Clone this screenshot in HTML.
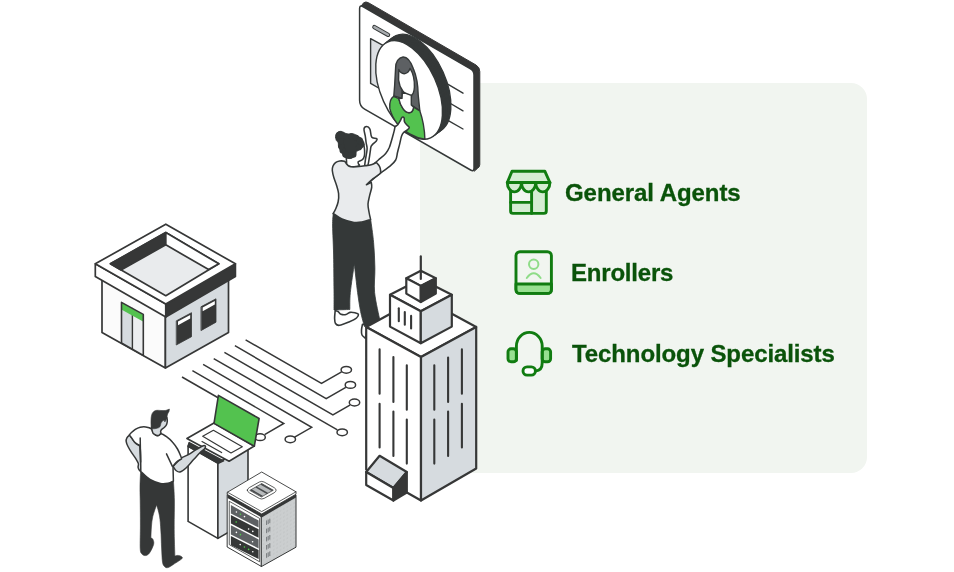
<!DOCTYPE html>
<html lang="en">
<head>
<meta charset="utf-8">
<title>Agents</title>
<style>
html,body{margin:0;padding:0;background:#fff;}
body{width:954px;height:572px;position:relative;overflow:hidden;font-family:"Liberation Sans",sans-serif;}
.panel{position:absolute;left:420px;top:83px;width:447px;height:390px;background:#f1f5f0;border-radius:0 16px 16px 0;}
.lbl{will-change:transform;position:absolute;margin:0;font-weight:700;font-size:24px;line-height:24px;color:#0a530a;-webkit-text-stroke:0.3px #0a530a;white-space:nowrap;letter-spacing:0;}
#art{position:absolute;left:0;top:0;width:954px;height:572px;}
</style>
</head>
<body>
<div class="panel"></div>
<p class="lbl" style="left:565.4px;top:181px;letter-spacing:-0.06px;">General Agents</p>
<p class="lbl" style="left:570.8px;top:261px;letter-spacing:-0.2px;">Enrollers</p>
<p class="lbl" style="left:571.6px;top:342px;letter-spacing:-0.1px;">Technology Specialists</p>
<svg id="art" viewBox="0 0 954 572" width="954" height="572">
<g id="circuits" fill="none" stroke="#363737" stroke-width="1.5" stroke-linejoin="miter" stroke-linecap="butt">
<path d="M245.6 339.8 L321.5 383.4 L341.6 371.8"/>
<path d="M234.9 345.7 L326.2 398.7 L345.8 387.3"/>
<path d="M224.4 352.3 L332.9 415.0 L349.9 405.1"/>
<path d="M213.7 358.6 L337.4 429.8"/>
<path d="M203.1 364.4 L311.7 427.3 L294.6 437.2"/>
<path d="M192.4 370.6 L283.8 423.5 L264.6 434.6"/>
<path d="M182.0 377.0 L222.0 400.0"/>
<ellipse cx="346.3" cy="369.8" rx="5.2" ry="3.4" fill="#fff"/>
<ellipse cx="350.4" cy="384.9" rx="5.2" ry="3.4" fill="#fff"/>
<ellipse cx="354.5" cy="402.5" rx="5.2" ry="3.4" fill="#fff"/>
<ellipse cx="342.2" cy="432.3" rx="5.2" ry="3.4" fill="#fff"/>
<ellipse cx="290.3" cy="439.3" rx="5.2" ry="3.4" fill="#fff"/>
<ellipse cx="260.1" cy="437.2" rx="5.2" ry="3.4" fill="#fff"/>
</g>
<g id="shop" stroke-linejoin="round" stroke-linecap="round" stroke="#363737" stroke-width="1.7">
<path d="M102.0 276.0 L165.4 310.0 L165.4 367.9 L102.0 332.4 Z" fill="#fbfbfb"/>
<path d="M165.4 310.0 L228.5 276.0 L228.5 332.6 L165.4 367.9 Z" fill="#d6dbdf"/>
<path d="M121.5 302.4 L143.3 314.4 L143.3 355.4 L121.5 343.0 Z" fill="#eceef0" stroke="none"/>
<path d="M121.5 302.4 L132.4 308.4 L132.4 349.2 L121.5 343.0 Z" fill="#d6dbdf" stroke="none"/>
<path d="M132.4 308.4 V349.2" fill="none" stroke-width="1.4"/>
<path d="M121.8 302.6 L143.0 314.4 L143.0 321.6 L121.8 309.8 Z" fill="#53c24f" stroke="none"/>
<path d="M121.5 302.4 L143.3 314.4 L143.3 355.4 L121.5 343.0 Z" fill="none" stroke-width="1.6"/>
<path d="M176.6 320.7 L191.5 312.7 L191.5 336.7 L176.6 344.8 Z" fill="#363737" stroke-width="0.8"/>
<path d="M201.3 306.6 L216.0 298.8 L216.0 322.2 L201.3 330.4 Z" fill="#363737" stroke-width="0.8"/>
<path d="M178.0 321.6 L190.2 315.0 L190.2 318.6 L178.0 325.2 Z" fill="#fff" stroke="none"/>
<path d="M202.7 307.6 L214.8 301.0 L214.8 304.6 L202.7 311.2 Z" fill="#fff" stroke="none"/>
<path d="M95.3 263.8 L165.8 304.1 L165.8 316.9 L95.3 276.6 Z" fill="#fff"/>
<path d="M165.8 304.1 L235.4 263.8 L235.4 276.6 L165.8 316.9 Z" fill="#363737"/>
<path d="M165.8 224.2 L235.4 263.8 L165.8 304.1 L95.3 263.8 Z" fill="#fff"/>
<path d="M165.8 232.6 L218.8 263.8 L165.8 295.7 L110.4 263.8 Z" fill="#e9ebed"/>
<path d="M110.4 263.8 L165.8 232.6 L165.8 244.8 L121.0 270.0 Z" fill="#363737"/>
<path d="M165.8 232.6 L218.8 263.8 L208.6 269.6 L165.8 244.8 Z" fill="#fff"/>
</g>
<g id="screen" stroke-linejoin="round" stroke-linecap="round">
  <path d="M359.8 8 L363.6 2.8 Q365.8 1.2 368.4 2.7 L476 65 Q479.8 67.2 479.8 71.5 L479.8 164.5 Q479.8 167 477.6 168.3 L474.5 171 Z" fill="#363737" stroke="#363737" stroke-width="1"/>
  <path d="M359.6 8.8 Q359.6 4.7 362.8 6.5 L470.5 68.9 Q474 71 474 75 L474 168 Q474 172 470.6 170 L364.6 109.1 Q359.6 106.2 359.6 100.2 Z" fill="#ffffff" stroke="#343838" stroke-width="1.5"/>
  <path d="M370.6 38.6 L383 45.4 L383 90.5 L370.6 83.4 Z" fill="#dcdfe3" stroke="#343838" stroke-width="1.4"/>
  <path d="M374.4 27.1 L388 34.8" stroke="#343838" stroke-width="4.4" fill="none"/>
  <path d="M374.4 27.1 L388 34.8" stroke="#a9adb0" stroke-width="2.4" fill="none"/>
  <g fill="none" stroke="#343838" stroke-width="1.4">
    <path d="M446 83.2 L463 93.2"/>
    <path d="M448 102 L463 110.8"/>
    <path d="M447 119.8 L463 129"/>
  </g>
  <g fill="#343838" stroke="#343838" stroke-width="1.4">
    <ellipse cx="417.5" cy="83.5" rx="52.5" ry="28" transform="rotate(65.8 417.5 83.5)"/>
    <ellipse cx="415.4" cy="85.1" rx="52.5" ry="28" transform="rotate(65.8 415.4 85.1)"/>
    <ellipse cx="413.3" cy="86.7" rx="52.5" ry="28" transform="rotate(65.8 413.3 86.7)"/>
    <ellipse cx="411.2" cy="88.3" rx="52.5" ry="28" transform="rotate(65.8 411.2 88.3)"/>
  </g>
  <ellipse cx="409.1" cy="89.9" rx="52.5" ry="28" transform="rotate(65.8 409.1 89.9)" fill="#ffffff" stroke="#343838" stroke-width="1.4"/>
  <!-- avatar -->
  <path d="M403 57 C398.5 57.5 395.6 62 395.6 68 L394.6 86 L393.8 96 L402.5 98.4 L402 90 L412 92 L411.2 99 L411.4 105 L419.8 110.6 L418.2 95 C418 84 416.5 76 413.5 69 C411 62 407.5 56.8 403 57 Z" fill="#5d6063" stroke="#343838" stroke-width="1.4"/>
  <path d="M398.8 69.5 C400 72 402.5 74 405 73.6 C407.5 73.2 409.2 71 410 68.4 C413 73 414.6 80 414.4 87 C414.2 92 412.6 95.6 409.8 95.6 C405.5 95.6 399.6 89 398.6 80 Z" fill="#ffffff" stroke="#343838" stroke-width="1.4"/>
  <path d="M393.6 96.4 C391 98 389.4 103 389.8 108.4 C391 114 394 119.5 397.5 124 C404 131.5 414 137.5 424.9 139.2 C424.6 130 423.2 120.5 419.8 110.8 L413.6 107.2 C413.2 110.5 411.6 112.8 409 112.8 C404.5 112.6 400.4 106 398.8 98.6 Z" fill="#53c24f" stroke="#343838" stroke-width="1.4"/>
  <path d="M402.4 92 L402 98.4 L398.8 98.6 C400.4 106 404.5 112.6 409 112.8 C411.6 112.8 413.2 110.5 413.6 107.2 L411.3 105 L411.3 95.4 Z" fill="#ffffff" stroke="#343838" stroke-width="1.4"/>
</g>
<g id="woman" stroke-linejoin="round" stroke-linecap="round" stroke="#343838" stroke-width="1.55">
<path d="M335.2 310.5 C335.1 311.8 334.6 315.8 334.6 318.0 C334.7 320.2 334.7 322.3 335.5 323.5 C336.3 324.7 337.2 325.6 339.5 325.3 C341.8 325.1 346.2 323.2 349.0 322.0 C351.8 320.8 354.9 319.3 356.5 318.0 C358.1 316.7 358.6 315.1 358.4 314.2 C358.1 313.3 356.4 313.1 355.0 312.8 C353.6 312.5 351.5 312.1 350.0 312.4 C348.5 312.7 347.5 314.2 346.0 314.5 C344.5 314.8 342.3 314.7 341.0 314.2 C339.7 313.7 339.0 312.1 338.0 311.5 C337.0 310.9 335.7 310.7 335.2 310.5 Z" fill="#fff" stroke-width="1.6"/>
<path d="M362.5 324.2 C362.3 325.2 361.6 328.2 361.5 330.0 C361.4 331.8 361.3 333.6 362.0 335.0 C362.7 336.4 364.9 337.8 365.5 338.4 C365.8 337.0 366.8 332.3 367.0 330.0 C367.2 327.7 367.0 325.4 367.0 324.5 C366.2 324.4 363.2 324.2 362.5 324.2 Z" fill="#fff" stroke-width="1.6"/>
<path d="M333.2 213.5 C333.1 215.6 332.5 219.1 332.6 226.0 C332.7 232.9 333.4 244.3 333.6 255.0 C333.8 265.7 333.9 280.8 334.0 290.0 C334.1 299.2 334.0 306.7 334.0 310.0 C336.6 309.9 347.2 309.6 349.8 309.5 C349.9 306.7 349.6 300.2 350.3 292.6 C351.1 285.0 353.6 268.8 354.3 264.0 C354.9 268.8 356.6 284.7 357.6 292.6 C358.7 300.5 359.5 305.9 360.6 311.5 C361.7 317.1 363.8 324.0 364.4 326.5 C367.0 325.6 377.4 321.9 380.0 321.0 C379.1 316.3 375.5 301.5 374.6 292.6 C373.8 283.7 375.1 276.1 374.9 267.8 C374.7 259.5 374.3 250.7 373.6 242.6 C372.9 234.5 371.1 222.9 370.6 219.0 C367.8 219.6 360.2 223.2 354.0 222.3 C347.8 221.4 336.7 215.0 333.2 213.5 Z" fill="#343838" stroke-width="0.8"/>
<path d="M372.0 165.5 C373.1 164.6 376.1 162.0 378.4 160.0 C380.7 158.0 383.9 155.6 385.7 153.5 C387.5 151.4 388.2 150.0 389.4 147.2 C390.5 144.4 391.8 139.5 392.6 136.7 C393.4 133.9 393.9 132.1 394.3 130.4 C394.7 128.7 394.6 127.7 395.2 126.7 C395.8 125.8 396.9 125.7 397.8 124.7 C398.7 123.7 399.7 121.7 400.4 120.5 C401.1 119.3 401.4 117.8 402.0 117.3 C402.6 116.8 403.7 117.1 404.1 117.8 C404.5 118.5 404.0 120.3 404.4 121.5 C404.8 122.7 405.9 123.7 406.7 124.7 C407.5 125.7 409.3 126.5 409.3 127.5 C409.3 128.4 407.6 129.6 406.7 130.4 C405.8 131.2 404.5 131.5 403.6 132.5 C402.7 133.5 402.2 134.1 401.5 136.2 C400.8 138.3 400.1 142.4 399.4 145.1 C398.7 147.8 398.1 150.0 397.5 152.5 C396.9 155.0 396.9 157.7 395.7 160.0 C394.4 162.3 392.6 164.0 390.0 166.2 C387.4 168.4 384.3 170.1 380.4 173.2 C376.5 176.3 368.7 182.8 366.4 184.7 C367.3 181.5 371.1 168.7 372.0 165.5 Z" fill="#fff"/>
<path d="M346.3 158.5 C346.4 159.1 346.5 161.0 346.6 162.0 C346.7 163.0 346.2 163.6 346.8 164.4 C347.4 165.2 348.5 166.2 350.0 166.6 C351.5 167.0 354.4 166.8 356.0 166.6 C357.6 166.4 359.0 165.7 359.4 165.3 C359.8 164.9 358.7 164.7 358.5 164.1 C358.3 163.5 358.0 162.5 358.1 162.0 C358.2 161.5 358.7 161.5 359.4 161.1 C360.1 160.7 361.7 160.3 362.5 159.5 C363.3 158.7 363.9 157.7 364.3 156.2 C364.7 154.7 364.7 152.4 364.6 150.4 C364.5 148.4 363.9 145.3 363.8 144.3 C362.3 145.2 357.9 147.6 355.0 150.0 C352.1 152.4 347.8 157.1 346.3 158.5 Z" fill="#fff"/>
<path d="M364.6 166.0 C364.7 165.0 365.1 162.1 365.4 159.9 C365.7 157.7 366.3 155.0 366.6 153.0 C366.9 151.0 367.2 149.8 367.1 148.0 C367.0 146.2 366.4 144.6 366.1 142.5 C365.8 140.4 365.6 138.0 365.2 135.7 C364.8 133.4 363.8 130.4 364.0 128.9 C364.2 127.4 365.7 126.5 366.7 126.5 C367.7 126.5 369.1 127.4 369.8 128.9 C370.6 130.4 370.7 134.2 371.2 135.7 C371.7 137.2 371.7 137.3 372.6 137.8 C373.5 138.3 376.2 138.2 376.8 138.7 C377.4 139.2 377.0 140.1 376.3 141.0 C375.6 141.9 373.7 143.2 372.8 144.1 C371.9 145.0 371.6 145.4 371.2 146.2 C370.8 147.0 370.8 147.4 370.6 148.8 C370.4 150.2 370.1 152.4 369.8 154.6 C369.5 156.8 368.9 160.1 368.6 162.0 C368.3 163.9 367.9 165.3 367.8 166.0 C367.3 166.0 365.1 166.0 364.6 166.0 Z" fill="#fff"/>
<path d="M333.2 213.5 C333.6 212.8 334.7 211.2 335.5 209.3 C336.3 207.4 337.6 204.6 338.1 202.0 C338.6 199.4 338.9 196.4 338.6 193.6 C338.3 190.8 337.3 187.8 336.5 185.2 C335.7 182.6 334.6 180.2 333.9 177.8 C333.2 175.4 332.5 172.4 332.3 170.5 C332.1 168.6 332.4 167.6 332.9 166.3 C333.4 165.0 334.4 163.5 335.5 162.6 C336.6 161.7 338.2 161.2 339.7 161.0 C341.2 160.8 343.3 160.9 344.4 161.3 C345.5 161.8 346.1 163.3 346.4 163.7 C346.8 164.1 348.0 165.8 349.1 166.3 C350.2 166.8 351.7 166.9 353.3 166.9 C354.9 166.9 357.1 166.8 359.0 166.6 C360.9 166.4 362.9 166.1 364.9 165.8 C366.9 165.5 369.3 165.2 371.2 164.7 C373.1 164.2 375.5 162.9 376.4 162.6 C376.9 163.2 378.8 165.0 379.5 166.3 C380.2 167.6 380.5 169.3 380.6 170.5 C380.8 171.7 380.4 172.9 380.4 173.4 C379.0 174.4 374.3 177.6 372.0 179.5 C369.7 181.4 367.3 183.8 366.4 184.7 C367.2 184.3 370.4 182.6 371.2 182.2 C371.3 183.0 372.0 185.1 371.7 187.3 C371.4 189.6 370.2 192.9 369.6 195.7 C369.0 198.5 368.1 201.3 368.0 204.1 C367.9 206.9 368.7 209.9 369.1 212.5 C369.5 215.1 370.4 218.3 370.6 219.5 C369.2 219.9 364.8 221.5 362.0 222.0 C359.2 222.5 357.3 222.9 354.0 222.4 C350.7 221.9 345.5 220.5 342.0 219.0 C338.5 217.5 334.7 214.4 333.2 213.5 Z" fill="#e9ebed"/>
<path d="M335.5 137.3 C335.5 136.2 335.6 134.6 336.3 133.6 C337.1 132.6 338.7 131.5 340.0 131.3 C341.3 131.1 343.0 131.9 344.2 132.4 C345.4 132.9 346.2 134.0 347.3 134.2 C348.4 134.4 349.8 133.6 351.0 133.6 C352.2 133.6 353.5 133.8 354.7 134.2 C355.9 134.6 357.2 135.6 358.3 136.3 C359.4 137.0 360.6 137.5 361.5 138.4 C362.4 139.3 363.2 140.4 363.6 141.5 C364.0 142.6 364.3 143.6 364.1 144.7 C363.9 145.8 363.3 146.9 362.5 147.8 C361.7 148.7 360.4 149.3 359.4 149.9 C358.4 150.5 357.3 150.8 356.7 151.5 C356.1 152.2 356.2 153.2 355.7 154.1 C355.2 155.0 354.6 156.4 353.6 157.2 C352.6 157.9 351.2 158.5 349.9 158.6 C348.6 158.7 346.9 158.4 345.7 157.8 C344.5 157.2 343.4 156.1 342.8 155.1 C342.2 154.1 342.6 152.9 342.1 152.0 C341.6 151.1 340.6 150.9 340.0 149.9 C339.4 148.9 338.7 147.4 338.4 146.2 C338.1 145.0 338.5 143.5 338.2 142.6 C337.9 141.7 336.8 141.4 336.3 140.5 C335.9 139.6 335.5 138.5 335.5 137.3 Z" fill="#343838" stroke-width="0.6"/>
<circle cx="340.0" cy="135.6" r="4.4" fill="#343838" stroke="none"/>
<circle cx="346.6" cy="136.4" r="3.2" fill="#343838" stroke="none"/>
<circle cx="351.6" cy="136.4" r="3.1" fill="#343838" stroke="none"/>
<circle cx="356.0" cy="137.8" r="3.1" fill="#343838" stroke="none"/>
<circle cx="359.8" cy="140.4" r="3.1" fill="#343838" stroke="none"/>
<circle cx="361.2" cy="144.2" r="3.1" fill="#343838" stroke="none"/>
<circle cx="359.0" cy="147.2" r="3.1" fill="#343838" stroke="none"/>
<circle cx="353.2" cy="154.4" r="3.3" fill="#343838" stroke="none"/>
<circle cx="349.6" cy="155.4" r="3.4" fill="#343838" stroke="none"/>
<circle cx="345.6" cy="154.6" r="3.3" fill="#343838" stroke="none"/>
<circle cx="342.6" cy="150.6" r="3.1" fill="#343838" stroke="none"/>
<circle cx="341.2" cy="146.2" r="3.1" fill="#343838" stroke="none"/>
<circle cx="340.6" cy="141.6" r="3.0" fill="#343838" stroke="none"/>
</g>
<g id="tower" stroke-linejoin="round" stroke-linecap="round" stroke="#363737" stroke-width="2.2">
<path d="M366.2 327.0 L421.0 297.0 L476.2 327.0 L421.0 357.0 Z" fill="#fff"/>
<path d="M366.2 327.0 L421.0 357.0 L421.0 500.5 L366.2 469.5 Z" fill="#fff"/>
<path d="M421.0 357.0 L476.2 327.0 L476.2 468.5 L421.0 500.5 Z" fill="#d6dbdf"/>
<g fill="none" stroke-width="2.1">
<path d="M379.6 349.4 V393.7 M379.6 403.8 V447.5"/>
<path d="M393.4 357.0 V402.0 M393.4 411.5 V455.9"/>
<path d="M406.8 365.2 V409.8 M406.8 419.6 V463.6"/>
<path d="M434.3 365.2 V409.8 M434.3 419.6 V463.6"/>
<path d="M448.1 357.5 V402.0 M448.1 411.5 V455.9"/>
<path d="M461.9 349.4 V393.7 M461.9 403.8 V447.5"/>
</g>
<path d="M379.6 455.8 L366.2 472.0 L393.4 488.0 L406.8 472.0 Z" fill="#d6dbdf"/>
<path d="M366.2 472.0 L366.2 485.0 L393.4 500.5 L393.4 488.0 Z" fill="#fff"/>
<path d="M393.4 488.0 L406.8 472.0 L406.8 492.5 L393.4 500.5 Z" fill="#363737"/>
<path d="M390.0 294.8 L420.8 279.0 L451.8 294.8 L420.8 311.3 Z" fill="#fff"/>
<path d="M390.0 294.8 L420.8 311.3 L420.8 343.2 L390.0 326.6 Z" fill="#fff"/>
<path d="M420.8 311.3 L451.8 294.8 L451.8 326.6 L420.8 343.2 Z" fill="#d6dbdf"/>
<g fill="none" stroke-width="2.1">
<path d="M398.8 308.3 V321.3"/>
<path d="M404.8 312.0 V324.7"/>
<path d="M411.1 315.9 V328.5"/>
</g>
<path d="M406.3 278.3 L420.8 270.8 L435.8 278.3 L420.8 285.9 Z" fill="#fff"/>
<path d="M406.3 278.3 L420.8 285.9 L420.8 302.0 L406.3 293.6 Z" fill="#fff"/>
<path d="M420.8 285.9 L435.8 278.3 L435.8 293.6 L420.8 302.0 Z" fill="#363737"/>
<path d="M420.8 256.4 V279" fill="none"/>
</g>
<g id="desk" stroke-linejoin="round" stroke-linecap="round" stroke="#353737" stroke-width="1.6">
<path d="M188.1 446.0 L217.9 463.0 L217.9 538.4 L188.1 521.4 Z" fill="#fff"/>
<path d="M217.9 463.0 L248.0 445.0 L248.0 521.0 L217.9 538.4 Z" fill="#d6dbdf"/>
<path d="M189.2 442.6 L223.5 460.9 L218.2 463.4 L188.1 446.3 Z" fill="#353737"/>
<path d="M186.9 438.5 L214.0 423.0 L254.3 446.0 L229.1 461.2 Z" fill="#fff"/>
<path d="M202.7 436.3 L213.4 430.3 L242.3 446.7 L231.0 453.0 Z" fill="#fff" stroke-width="1.2"/>
<path d="M202 441.6 L221.6 452.6" fill="none" stroke-width="1.2"/>
<path d="M218.4 395.4 L259.1 418.5 L254.3 446.3 L214.0 423.4 Z" fill="#53c24f"/>
</g>
<g id="man" stroke-linejoin="round" stroke-linecap="round" stroke="#353737" stroke-width="1.5">
<path d="M140.6 471.0 C140.5 473.5 140.1 481.1 140.0 486.0 C139.9 490.9 140.1 493.9 140.2 500.4 C140.3 506.9 140.4 517.1 140.4 525.0 C140.4 532.9 140.0 543.2 140.2 548.0 C140.4 552.8 140.7 552.2 141.5 553.5 C142.3 554.8 144.0 555.7 145.3 555.6 C146.6 555.5 148.1 554.9 149.5 553.0 C150.9 551.1 153.0 546.8 153.6 544.5 C154.2 542.2 153.4 540.6 153.0 539.5 C152.6 538.4 151.2 538.1 150.9 537.8 C151.0 536.0 151.1 530.6 151.4 527.0 C151.7 523.4 151.9 520.1 152.8 516.4 C153.7 512.7 156.0 506.7 156.6 504.8 C157.1 506.7 158.8 511.8 159.5 516.0 C160.2 520.2 160.5 524.7 160.8 530.0 C161.2 535.3 161.3 542.7 161.6 548.0 C161.9 553.3 162.0 558.9 162.5 562.0 C163.0 565.1 163.6 565.6 164.5 566.5 C165.4 567.4 166.4 568.0 168.0 567.6 C169.6 567.2 171.7 565.5 174.0 564.0 C176.3 562.5 180.6 560.0 181.8 558.8 C183.0 557.5 182.0 557.1 181.4 556.5 C180.8 555.9 179.1 555.5 178.0 555.4 C176.9 555.3 175.4 555.9 174.9 556.0 C174.8 553.3 174.5 545.1 174.4 540.0 C174.3 534.9 174.2 531.9 174.2 525.2 C174.2 518.5 174.5 507.4 174.4 500.0 C174.3 492.6 173.6 483.8 173.4 480.5 C171.2 481.0 165.9 485.2 160.4 483.6 C154.9 482.0 143.9 473.1 140.6 471.0 Z" fill="#353737" stroke-width="0.6"/>
<path d="M129.8 434.9 C129.3 435.4 127.5 436.8 126.9 437.9 C126.3 439.0 126.0 440.2 126.2 441.6 C126.4 443.0 127.1 444.7 128.0 446.5 C128.9 448.3 130.3 450.6 131.6 452.6 C132.9 454.7 134.8 457.0 135.9 458.8 C137.0 460.6 138.0 462.2 138.4 463.6 C138.8 465.0 137.9 466.2 138.1 467.3 C138.3 468.4 139.1 469.8 139.6 470.5 C140.1 471.2 140.8 471.3 141.0 471.5 C140.9 469.6 140.8 464.2 140.6 460.0 C140.4 455.8 140.1 448.3 140.0 446.0 C139.1 445.4 136.4 444.1 134.7 442.2 C133.0 440.3 130.6 436.1 129.8 434.9 Z" fill="#d6dbdf"/>
<path d="M181.0 458.0 C182.2 457.4 186.0 456.1 188.4 454.7 C190.8 453.3 193.6 451.2 195.7 449.9 C197.8 448.6 199.6 447.6 201.0 446.8 C202.4 446.1 203.4 445.4 204.2 445.4 C204.9 445.4 205.5 446.0 205.5 446.6 C205.5 447.2 205.3 448.0 204.4 449.0 C203.5 450.0 201.7 451.0 199.9 452.8 C198.1 454.6 195.9 457.1 193.6 459.6 C191.3 462.1 188.6 465.7 186.3 467.8 C184.0 469.9 181.7 471.6 180.0 472.0 C178.3 472.4 177.2 471.4 176.0 470.5 C174.8 469.6 173.5 467.1 173.0 466.4 C174.3 465.0 179.7 459.4 181.0 458.0 Z" fill="#d6dbdf"/>
<path d="M140.8 471.5 C140.8 468.8 140.7 459.4 140.6 455.0 C140.5 450.6 140.1 446.8 140.0 445.2 C139.7 445.1 139.3 445.2 138.4 444.7 C137.5 444.2 135.8 443.3 134.7 442.2 C133.6 441.1 132.5 439.1 131.6 437.9 C130.7 436.7 129.8 435.4 129.4 434.9 C129.7 434.6 130.0 433.9 131.0 433.0 C132.0 432.1 133.8 430.4 135.3 429.4 C136.8 428.4 138.5 427.6 140.2 427.2 C141.9 426.8 143.8 426.6 145.7 426.9 C147.6 427.2 150.2 427.8 151.4 428.8 C152.7 429.8 152.2 431.6 153.2 432.8 C154.2 434.0 156.2 435.7 157.5 435.8 C158.8 435.9 159.5 433.6 161.0 433.7 C162.5 433.8 164.6 435.3 166.5 436.7 C168.4 438.1 170.8 440.1 172.6 442.2 C174.4 444.2 176.2 446.8 177.5 449.0 C178.8 451.2 179.9 454.1 180.6 455.7 C181.3 457.3 181.4 458.3 181.6 458.8 C180.7 459.4 177.4 461.2 176.0 462.5 C174.6 463.8 173.5 465.8 173.0 466.4 C173.1 468.8 173.3 478.6 173.4 481.0 C172.5 481.4 170.2 482.8 168.0 483.2 C165.8 483.6 163.4 484.0 160.4 483.4 C157.4 482.8 153.3 481.5 150.0 479.5 C146.7 477.5 142.3 472.8 140.8 471.5 Z" fill="#fff"/>
<path d="M140.2 438 L140.6 462" fill="none"/>
<path d="M166.5 453.9 L172.4 466.4" fill="none"/>
<path d="M151.5 427.5 C151.6 428.1 151.9 429.8 152.2 430.8 C152.5 431.8 152.7 432.9 153.3 433.6 C154.0 434.4 155.2 435.0 156.1 435.3 C157.0 435.6 158.1 435.7 158.9 435.3 C159.7 434.9 160.7 433.8 161.0 433.2 C161.3 432.6 160.5 432.1 160.6 431.5 C160.7 430.9 161.0 430.1 161.7 429.4 C162.3 428.7 163.7 428.1 164.5 427.3 C165.3 426.5 166.1 425.6 166.6 424.5 C167.1 423.4 167.2 422.2 167.3 421.0 C167.4 419.8 167.0 418.1 166.9 417.5 C165.8 417.9 162.0 418.9 160.0 420.0 C158.0 421.1 156.4 422.8 155.0 424.0 C153.6 425.2 152.1 426.9 151.5 427.5 Z" fill="#d6dbdf"/>
<path d="M151.2 428.7 C151.2 427.4 150.9 423.2 151.0 421.0 C151.1 418.8 151.1 416.9 151.5 415.4 C151.9 413.9 152.4 412.8 153.3 411.9 C154.2 411.0 155.5 410.5 156.8 410.3 C158.1 410.1 159.6 410.5 161.0 410.5 C162.4 410.5 163.8 410.7 165.2 410.5 C166.6 410.3 168.7 409.3 169.4 409.1 C169.3 409.5 169.3 410.7 169.0 411.5 C168.7 412.3 167.9 413.0 167.6 414.0 C167.2 415.0 167.2 416.4 166.9 417.5 C166.6 418.6 166.2 419.6 165.9 420.3 C165.6 421.0 165.0 421.6 164.8 421.9 C164.7 421.6 164.5 420.4 164.1 420.3 C163.7 420.2 162.9 420.5 162.4 421.0 C161.9 421.5 161.3 422.3 161.0 423.1 C160.7 423.9 160.7 425.1 160.3 425.9 C160.0 426.6 159.6 427.2 158.9 427.6 C158.2 428.0 157.0 428.3 156.1 428.5 C155.2 428.7 154.1 428.8 153.3 428.8 C152.5 428.8 151.5 428.7 151.2 428.7 Z" fill="#353737" stroke-width="0.6"/>
</g>
<g id="server" stroke-linejoin="round" stroke-linecap="round" stroke="#353737" stroke-width="1">
<path d="M227.5 495.0 L261.5 514.0 L261.5 566.5 L227.5 547.2 Z" fill="#fff"/>
<defs><pattern id="dots" width="3.4" height="3.9" patternUnits="userSpaceOnUse" patternTransform="skewY(-30)"><rect width="3.4" height="3.9" fill="#cbcecf" stroke="none"/><circle cx="1.7" cy="1.9" r="0.5" fill="#b0b4b5" stroke="none"/></pattern></defs>
<path d="M261.5 514.0 L296.0 495.0 L296.0 547.2 L261.5 566.5 Z" fill="url(#dots)"/>
<path d="M229.6 501.5 L259.6 518.4 L259.6 561.8 L229.6 544.8 Z" fill="#fff" stroke-width="0.8"/>
<path d="M230.9 505.0 L258.6 520.6 L258.6 527.6 L230.9 513.6 Z" fill="#5d6063" stroke="none"/>
<path d="M230.9 515.1 L258.6 529.3 L258.6 537.8 L230.9 523.6 Z" fill="#353737" stroke="none"/>
<path d="M230.9 525.2 L258.6 539.4 L258.6 548.4 L230.9 534.4 Z" fill="#5d6063" stroke="none"/>
<path d="M230.9 535.9 L258.6 550.0 L258.6 559.0 L230.9 545.2 Z" fill="#353737" stroke="none"/>
<circle cx="236.4" cy="512.0" r="0.8" fill="#fff" stroke="none"/>
<circle cx="240.4" cy="514.2" r="0.8" fill="#4fd24a" stroke="none"/>
<circle cx="244.5" cy="516.6" r="0.8" fill="#fff" stroke="none"/>
<circle cx="236.2" cy="522.0" r="0.8" fill="#4fd24a" stroke="none"/>
<circle cx="248.6" cy="529.0" r="0.8" fill="#fff" stroke="none"/>
<circle cx="252.8" cy="531.4" r="0.8" fill="#fff" stroke="none"/>
<circle cx="236.4" cy="532.4" r="0.8" fill="#fff" stroke="none"/>
<circle cx="240.4" cy="534.6" r="0.8" fill="#4fd24a" stroke="none"/>
<circle cx="252.6" cy="541.8" r="0.8" fill="#fff" stroke="none"/>
<circle cx="240.2" cy="544.6" r="0.8" fill="#fff" stroke="none"/>
<circle cx="244.4" cy="547.0" r="0.8" fill="#4fd24a" stroke="none"/>
<circle cx="248.6" cy="549.4" r="0.8" fill="#4fd24a" stroke="none"/>
<circle cx="252.8" cy="551.8" r="0.8" fill="#fff" stroke="none"/>
<path d="M266.6 520.4 v4.6 M268.2 519.5 v4.6 M269.8 518.6 v4.6" stroke="#6d7173" stroke-width="0.9" fill="none" stroke-linecap="butt"/>
<path d="M266.6 528.6 v4.6 M268.2 527.7 v4.6 M269.8 526.8 v4.6" stroke="#6d7173" stroke-width="0.9" fill="none" stroke-linecap="butt"/>
<path d="M266.6 536.8 v4.6 M268.2 535.9 v4.6 M269.8 535.0 v4.6" stroke="#6d7173" stroke-width="0.9" fill="none" stroke-linecap="butt"/>
<path d="M266.6 545.0 v4.6 M268.2 544.1 v4.6 M269.8 543.2 v4.6" stroke="#6d7173" stroke-width="0.9" fill="none" stroke-linecap="butt"/>
<path d="M266.6 553.2 v4.6 M268.2 552.3 v4.6 M269.8 551.4 v4.6" stroke="#6d7173" stroke-width="0.9" fill="none" stroke-linecap="butt"/>
<path d="M227.5 492.4 L261.7 511.8 L296.0 492.0 L296.0 497.4 L261.7 517.4 L227.5 498.0 Z" fill="#353737" stroke="none"/>
<path d="M227.5 492.2 L261.7 472.0 L296.0 491.8 L296.0 494.2 L261.7 514.0 L227.5 494.6 Z" fill="#fff" stroke-width="0.9"/>
<path d="M227.5 492.2 L261.7 511.6 L296 491.8" fill="none" stroke-width="0.8"/>
<g transform="translate(261.7 490.2)">
<path d="M-14.4 0 Q-14.4 -1.4 -12.4 -2.6 L-2.4 -8.2 Q0 -9.4 2.4 -8.2 L12.4 -2.6 Q14.4 -1.4 14.4 0 Q14.4 1.4 12.4 2.6 L2.4 8.2 Q0 9.4 -2.4 8.2 L-12.4 2.6 Q-14.4 1.4 -14.4 0 Z" fill="#fff" stroke-width="0.8"/>
<path d="M-11.6 0 L0 -6.6 L11.6 0 L0 6.6 Z" fill="#b9bcbe" stroke="#353737" stroke-width="0.7"/>
<path d="M-10.9 -0.4 l11.6 6.6" stroke="#4a4d4f" stroke-width="1.6" fill="none" stroke-linecap="butt"/>
<path d="M-5.8 -3.3 l11.6 6.6" stroke="#4a4d4f" stroke-width="1.6" fill="none" stroke-linecap="butt"/>
<path d="M-0.7 -6.2 l11.6 6.6" stroke="#4a4d4f" stroke-width="1.6" fill="none" stroke-linecap="butt"/>
</g>
</g>
<g id="icons" fill="none" stroke="#117c11" stroke-width="2.9" stroke-linejoin="round" stroke-linecap="round">
  <!-- shop -->
  <g>
    <path d="M510.6 186 V211 Q510.6 213.4 513 213.4 H543.9 Q546.3 213.4 546.3 211 V186 Z" fill="#d5edd3" stroke="none"/>
    <rect x="510.6" y="186" width="21" height="16.4" fill="#f1f5f0" stroke="none"/>
    <path d="M510.6 189 V211 Q510.6 213.4 513 213.4 H543.9 Q546.3 213.4 546.3 211 V189"/>
    <path d="M531.6 192 V213.4 M510.6 202.4 H531.6"/>
    <path d="M512 171.2 H544.8 L549.9 182.5 H507.3 Z" fill="#d5edd3"/>
    <path d="M507.3 182.5 a7.1 9.4 0 0 0 14.2 0 a7.1 9.4 0 0 0 14.2 0 a7.1 9.4 0 0 0 14.2 0 Z" fill="#d5edd3"/>
  </g>
  <!-- enroller card -->
  <g>
    <rect x="516" y="251.7" width="35.4" height="41.7" rx="4" ry="4" fill="#f1f5f0"/>
    <path d="M516 284 H551.4 V289.4 Q551.4 293.4 547.4 293.4 H520 Q516 293.4 516 289.4 Z" fill="#98e091"/>
    <g stroke="#8fdc88" stroke-width="2">
      <circle cx="533.7" cy="264.2" r="4.7"/>
      <path d="M526.8 278 Q533.7 268.6 540.6 278"/>
    </g>
  </g>
  <!-- headset -->
  <g>
    <rect x="508" y="348.8" width="8.4" height="13" rx="3" ry="3" fill="#98e091"/>
    <rect x="542.2" y="348.8" width="8.4" height="13" rx="3" ry="3" fill="#98e091"/>
    <path d="M516.4 360.5 V346 A12.9 13.6 0 0 1 542.2 346 V363 Q542.2 370.4 535.6 371"/>
    <rect x="523" y="366.9" width="12.4" height="8.2" rx="4.1" ry="4.1" fill="#ffffff"/>
  </g>
</g>

</svg>
</body>
</html>
